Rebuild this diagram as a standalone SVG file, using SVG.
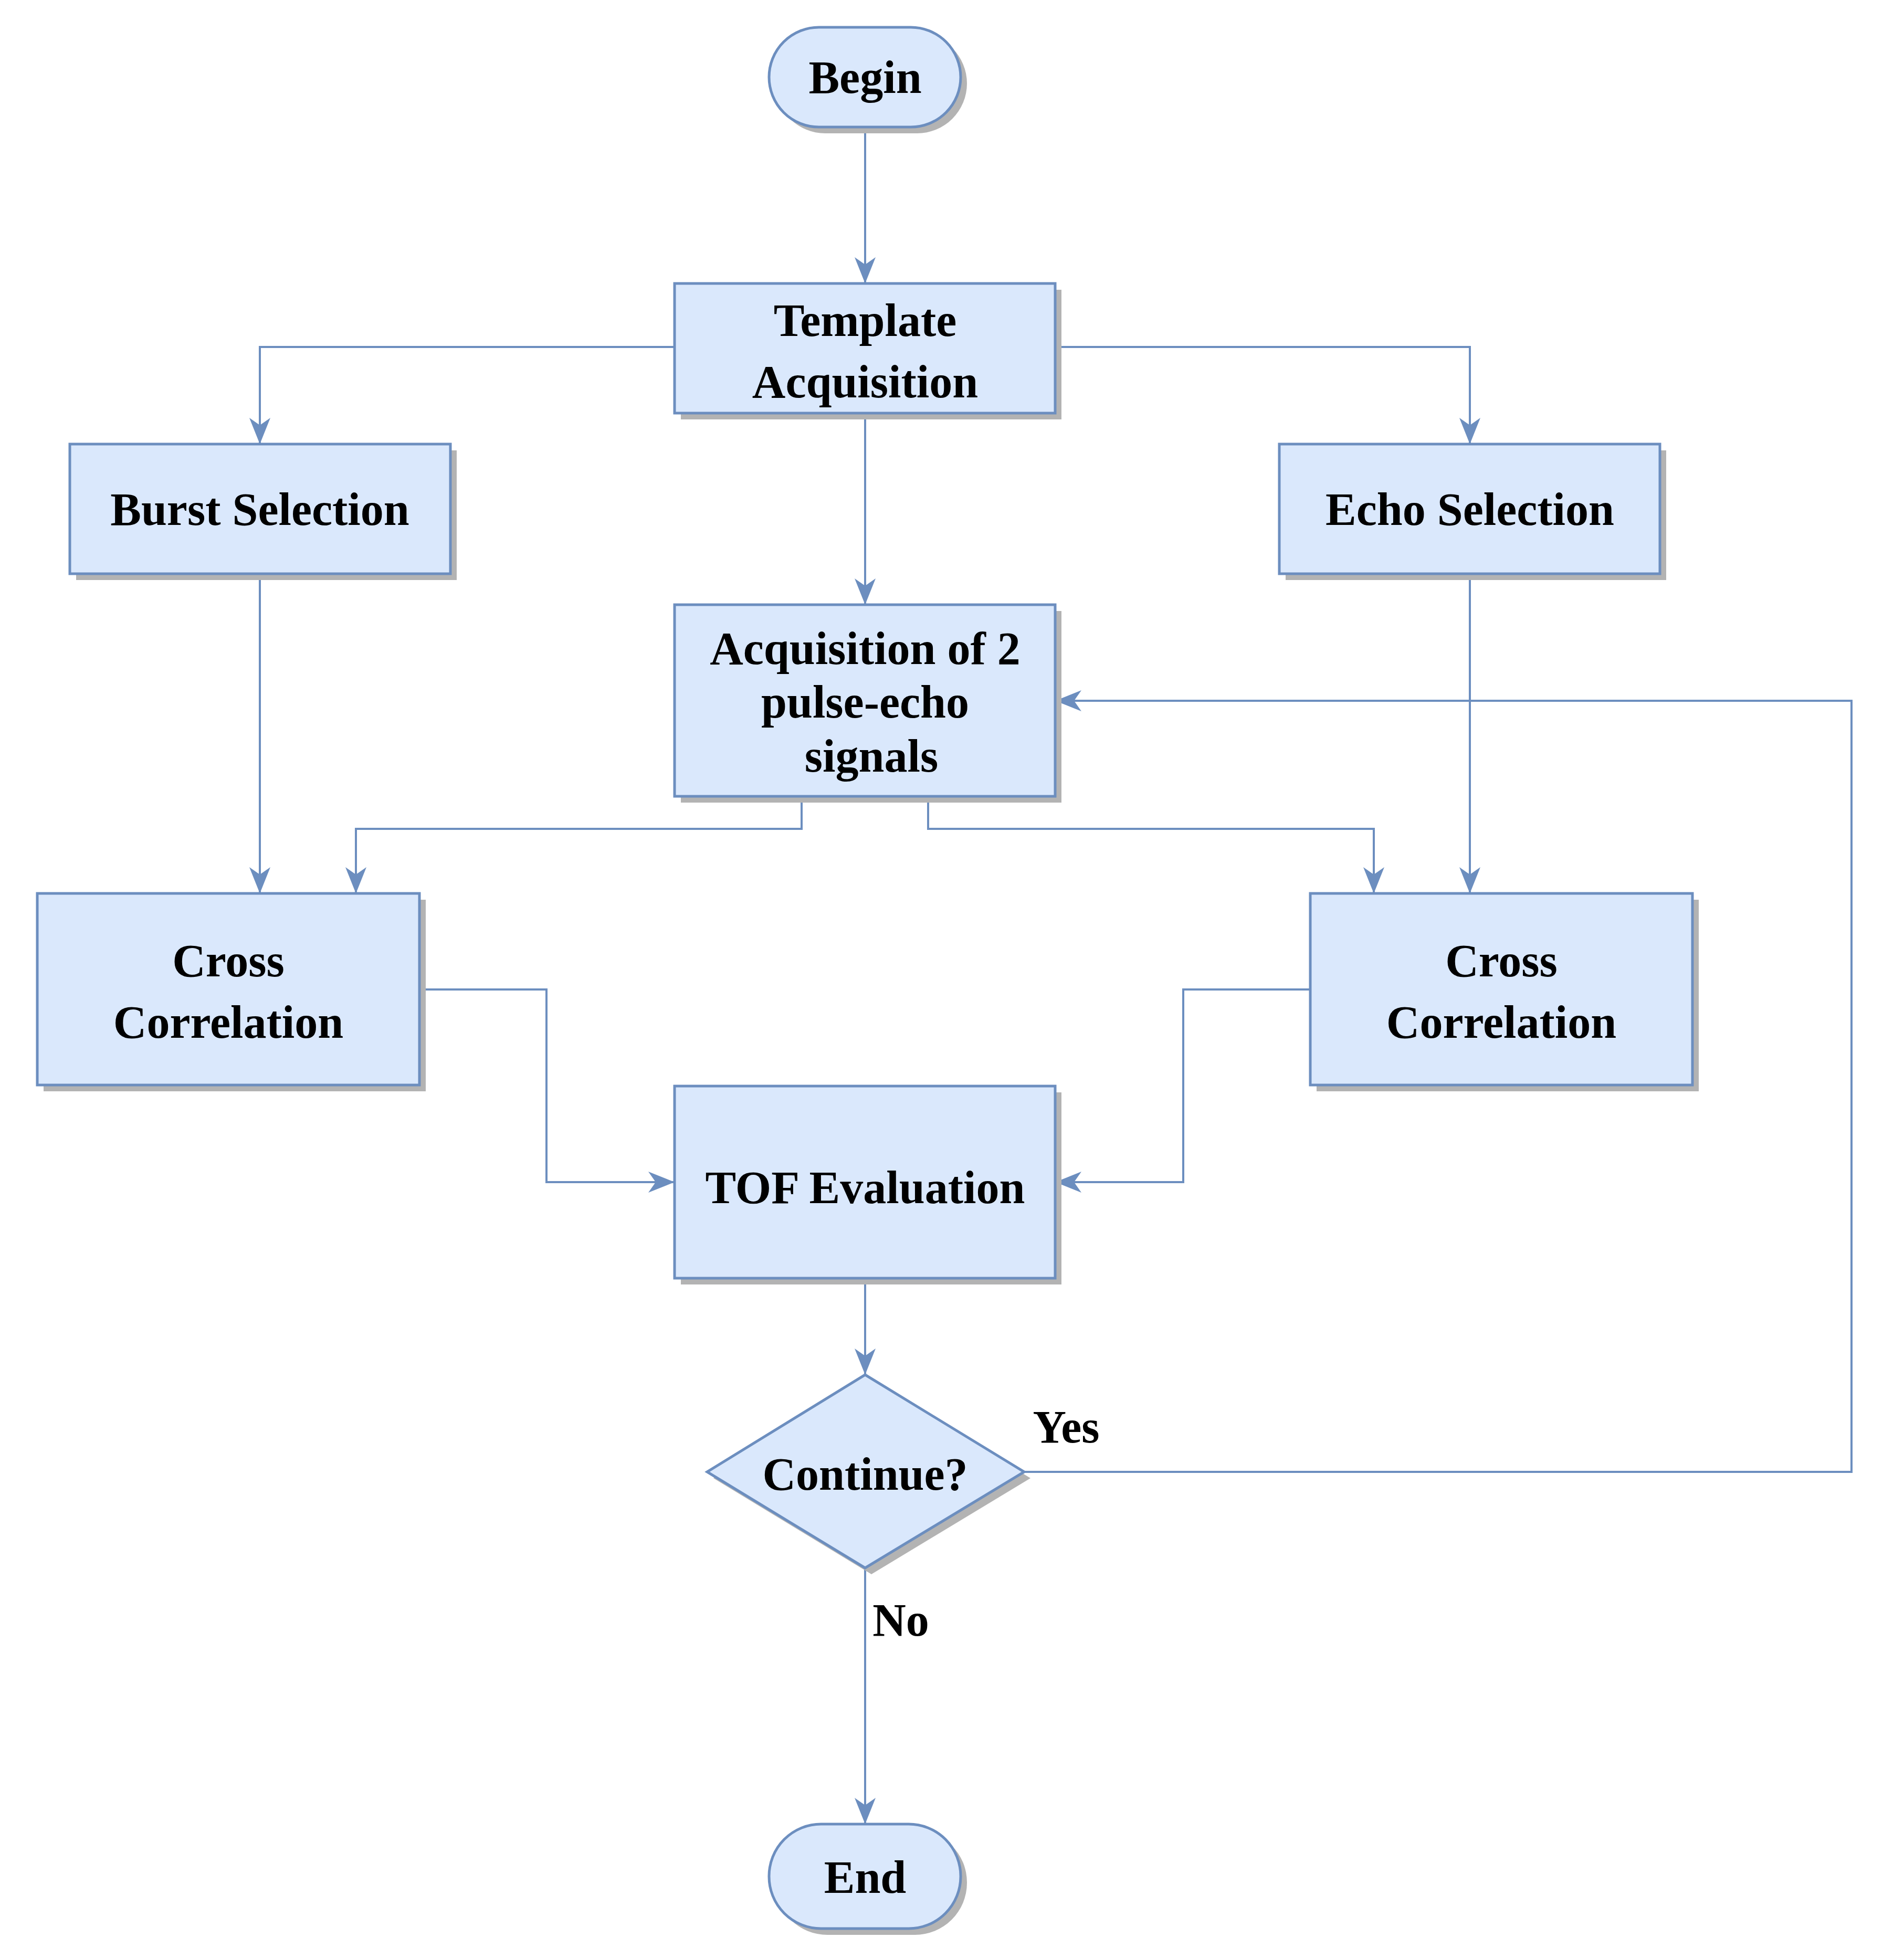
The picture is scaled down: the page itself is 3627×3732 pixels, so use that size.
<svg xmlns="http://www.w3.org/2000/svg" width="3627" height="3732" viewBox="0 0 3627 3732">
<style>
.n{fill:#dae8fc;stroke:#6c8ebf;stroke-width:5}
.s{fill:#b3b3b3}
.t{font-family:"Liberation Serif",serif;font-weight:bold;font-size:88px;fill:#000;text-anchor:middle}
.c{fill:none;stroke:#6c8ebf;stroke-width:4}
</style>
<defs><marker id="a" markerWidth="12" markerHeight="12" refX="10" refY="6" orient="auto" markerUnits="userSpaceOnUse" viewBox="0 0 12 12"><path d="M0,0 L12,6 L0,12 L4,6 Z" fill="#6c8ebf" transform="scale(1)"/></marker>
<marker id="m" markerWidth="52" markerHeight="52" refX="50" refY="26" orient="auto" markerUnits="userSpaceOnUse"><path d="M0,6 L50,26 L0,46 L14,26 Z" fill="#6c8ebf"/></marker></defs>
<g id="connectors">
<path class="c" marker-end="url(#m)" d="M1648,242 V540"/>
<path class="c" marker-end="url(#m)" d="M1285,661 H495 V846"/>
<path class="c" marker-end="url(#m)" d="M2010,661 H2800 V846"/>
<path class="c" marker-end="url(#m)" d="M1648,787 V1152"/>
<path class="c" marker-end="url(#m)" d="M495,1093 V1702"/>
<path class="c" marker-end="url(#m)" d="M2800,1093 V1702"/>
<path class="c" marker-end="url(#m)" d="M1527,1517 V1579 H678 V1702"/>
<path class="c" marker-end="url(#m)" d="M1768,1517 V1579 H2617 V1702"/>
<path class="c" marker-end="url(#m)" d="M799,1885 H1041 V2252 H1285"/>
<path class="c" marker-end="url(#m)" d="M2496,1885 H2254 V2252 H2010"/>
<path class="c" marker-end="url(#m)" d="M1648,2435 V2619"/>
<path class="c" marker-end="url(#m)" d="M1951,2804 H3527 V1335 H2010"/>
<path class="c" marker-end="url(#m)" d="M1648,2987 V3475"/>
<text class="t" x="2031" y="2748">Yes</text>
<text class="t" x="1716" y="3116">No</text>
</g>
<g id="begin"><rect class="s" x="1477" y="64" width="365" height="190" rx="95"/><rect class="n" x="1465" y="52" width="365" height="190" rx="95"/><text class="t" x="1648" y="177">Begin</text></g>
<g id="template"><rect class="s" x="1297" y="552" width="725" height="247"/><rect class="n" x="1285" y="540" width="725" height="247"/><text class="t" x="1648" y="640">Template</text><text class="t" x="1648" y="757">Acquisition</text></g>
<g id="burst"><rect class="s" x="145" y="858" width="725" height="247"/><rect class="n" x="133" y="846" width="725" height="247"/><text class="t" x="495" y="1000">Burst Selection</text></g>
<g id="echo"><rect class="s" x="2449" y="858" width="725" height="247"/><rect class="n" x="2437" y="846" width="725" height="247"/><text class="t" x="2800" y="1000">Echo Selection</text></g>
<g id="acq"><rect class="s" x="1297" y="1164" width="725" height="365"/><rect class="n" x="1285" y="1152" width="725" height="365"/><text class="t" x="1648" y="1265">Acquisition of 2</text><text class="t" x="1648" y="1367">pulse-echo</text><text class="t" x="1660" y="1470">signals</text></g>
<g id="ccl"><rect class="s" x="83" y="1714" width="728" height="365"/><rect class="n" x="71" y="1702" width="728" height="365"/><text class="t" x="435" y="1860">Cross</text><text class="t" x="435" y="1977">Correlation</text></g>
<g id="ccr"><rect class="s" x="2508" y="1714" width="728" height="365"/><rect class="n" x="2496" y="1702" width="728" height="365"/><text class="t" x="2860" y="1860">Cross</text><text class="t" x="2860" y="1977">Correlation</text></g>
<g id="tof"><rect class="s" x="1297" y="2081" width="725" height="366"/><rect class="n" x="1285" y="2069" width="725" height="366"/><text class="t" x="1648" y="2292">TOF Evaluation</text></g>
<g id="cont"><path class="s" d="M1660,2631 L1963,2816 L1660,2999 L1359,2816 Z"/><path class="n" d="M1648,2619 L1951,2804 L1648,2987 L1347,2804 Z"/><text class="t" x="1648" y="2838">Continue?</text></g>
<g id="end"><rect class="s" x="1477" y="3487" width="365" height="199" rx="99"/><rect class="n" x="1465" y="3475" width="365" height="199" rx="99"/><text class="t" x="1648" y="3606">End</text></g>
</svg>
